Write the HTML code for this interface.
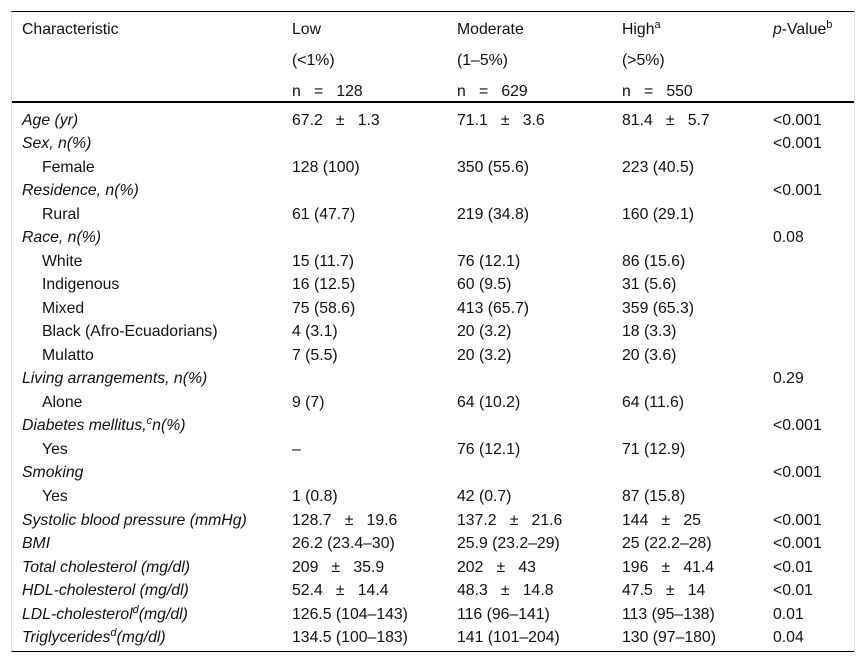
<!DOCTYPE html>
<html><head><meta charset="utf-8"><style>
body{margin:0;width:865px;height:665px;background:#fff;font-family:"Liberation Sans",sans-serif;font-size:15.8px;color:#111;position:relative;overflow:hidden}
#tbl{position:absolute;left:11px;top:11px;width:844px;height:641px;border-top:1px solid #000;border-bottom:1px solid #000;border-left:1px solid #e4e4e4;border-right:1px solid #e4e4e4;box-sizing:border-box}
.r{position:absolute;left:0;width:100%;height:24px;line-height:24px;margin-top:1.5px}
.r span{position:absolute;white-space:pre}
.c0{left:10px}.c1{left:280px}.c2{left:445px}.c3{left:610px}.c4{left:761px}
.in{left:30px!important}
i{font-style:italic}
sup{font-size:11px;line-height:0;vertical-align:6px}
#hl{position:absolute;left:0;top:89px;width:100%;height:2px;background:#000}
</style></head><body>
<div id="tbl">
<div class="r" style="top:4px"><span class="c0">Characteristic</span><span class="c1">Low</span><span class="c2">Moderate</span><span class="c3">High<sup>a</sup></span><span class="c4"><i>p</i>-Value<sup>b</sup></span></div>
<div class="r" style="top:35px"><span class="c1">(&lt;1%)</span><span class="c2">(1–5%)</span><span class="c3">(&gt;5%)</span></div>
<div class="r" style="top:66px"><span class="c1">n   =   128</span><span class="c2">n   =   629</span><span class="c3">n   =   550</span></div>
<div id="hl"></div>
<div class="r" style="top:95px"><span class="c0"><i>Age (yr)</i></span><span class="c1">67.2   ±   1.3</span><span class="c2">71.1   ±   3.6</span><span class="c3">81.4   ±   5.7</span><span class="c4">&lt;0.001</span></div>
<div class="r" style="top:118.5px"><span class="c0"><i>Sex, n(%)</i></span><span class="c4">&lt;0.001</span></div>
<div class="r" style="top:142px"><span class="c0 in">Female</span><span class="c1">128 (100)</span><span class="c2">350 (55.6)</span><span class="c3">223 (40.5)</span></div>
<div class="r" style="top:165.5px"><span class="c0"><i>Residence, n(%)</i></span><span class="c4">&lt;0.001</span></div>
<div class="r" style="top:189px"><span class="c0 in">Rural</span><span class="c1">61 (47.7)</span><span class="c2">219 (34.8)</span><span class="c3">160 (29.1)</span></div>
<div class="r" style="top:212.5px"><span class="c0"><i>Race, n(%)</i></span><span class="c4">0.08</span></div>
<div class="r" style="top:236px"><span class="c0 in">White</span><span class="c1">15 (11.7)</span><span class="c2">76 (12.1)</span><span class="c3">86 (15.6)</span></div>
<div class="r" style="top:259.5px"><span class="c0 in">Indigenous</span><span class="c1">16 (12.5)</span><span class="c2">60 (9.5)</span><span class="c3">31 (5.6)</span></div>
<div class="r" style="top:283px"><span class="c0 in">Mixed</span><span class="c1">75 (58.6)</span><span class="c2">413 (65.7)</span><span class="c3">359 (65.3)</span></div>
<div class="r" style="top:306.5px"><span class="c0 in">Black (Afro-Ecuadorians)</span><span class="c1">4 (3.1)</span><span class="c2">20 (3.2)</span><span class="c3">18 (3.3)</span></div>
<div class="r" style="top:330px"><span class="c0 in">Mulatto</span><span class="c1">7 (5.5)</span><span class="c2">20 (3.2)</span><span class="c3">20 (3.6)</span></div>
<div class="r" style="top:353.5px"><span class="c0"><i>Living arrangements, n(%)</i></span><span class="c4">0.29</span></div>
<div class="r" style="top:377px"><span class="c0 in">Alone</span><span class="c1">9 (7)</span><span class="c2">64 (10.2)</span><span class="c3">64 (11.6)</span></div>
<div class="r" style="top:400.5px"><span class="c0"><i>Diabetes mellitus,<sup>c</sup>n(%)</i></span><span class="c4">&lt;0.001</span></div>
<div class="r" style="top:424px"><span class="c0 in">Yes</span><span class="c1">–</span><span class="c2">76 (12.1)</span><span class="c3">71 (12.9)</span></div>
<div class="r" style="top:447.5px"><span class="c0"><i>Smoking</i></span><span class="c4">&lt;0.001</span></div>
<div class="r" style="top:471px"><span class="c0 in">Yes</span><span class="c1">1 (0.8)</span><span class="c2">42 (0.7)</span><span class="c3">87 (15.8)</span></div>
<div class="r" style="top:495px"><span class="c0"><i>Systolic blood pressure (mmHg)</i></span><span class="c1">128.7   ±   19.6</span><span class="c2">137.2   ±   21.6</span><span class="c3">144   ±   25</span><span class="c4">&lt;0.001</span></div>
<div class="r" style="top:518.5px"><span class="c0"><i>BMI</i></span><span class="c1">26.2 (23.4–30)</span><span class="c2">25.9 (23.2–29)</span><span class="c3">25 (22.2–28)</span><span class="c4">&lt;0.001</span></div>
<div class="r" style="top:542px"><span class="c0"><i>Total cholesterol (mg/dl)</i></span><span class="c1">209   ±   35.9</span><span class="c2">202   ±   43</span><span class="c3">196   ±   41.4</span><span class="c4">&lt;0.01</span></div>
<div class="r" style="top:565.5px"><span class="c0"><i>HDL-cholesterol (mg/dl)</i></span><span class="c1">52.4   ±   14.4</span><span class="c2">48.3   ±   14.8</span><span class="c3">47.5   ±   14</span><span class="c4">&lt;0.01</span></div>
<div class="r" style="top:589px"><span class="c0"><i>LDL-cholesterol<sup>d</sup>(mg/dl)</i></span><span class="c1">126.5 (104–143)</span><span class="c2">116 (96–141)</span><span class="c3">113 (95–138)</span><span class="c4">0.01</span></div>
<div class="r" style="top:612.5px"><span class="c0"><i>Triglycerides<sup>d</sup>(mg/dl)</i></span><span class="c1">134.5 (100–183)</span><span class="c2">141 (101–204)</span><span class="c3">130 (97–180)</span><span class="c4">0.04</span></div>
</div>
</body></html>
